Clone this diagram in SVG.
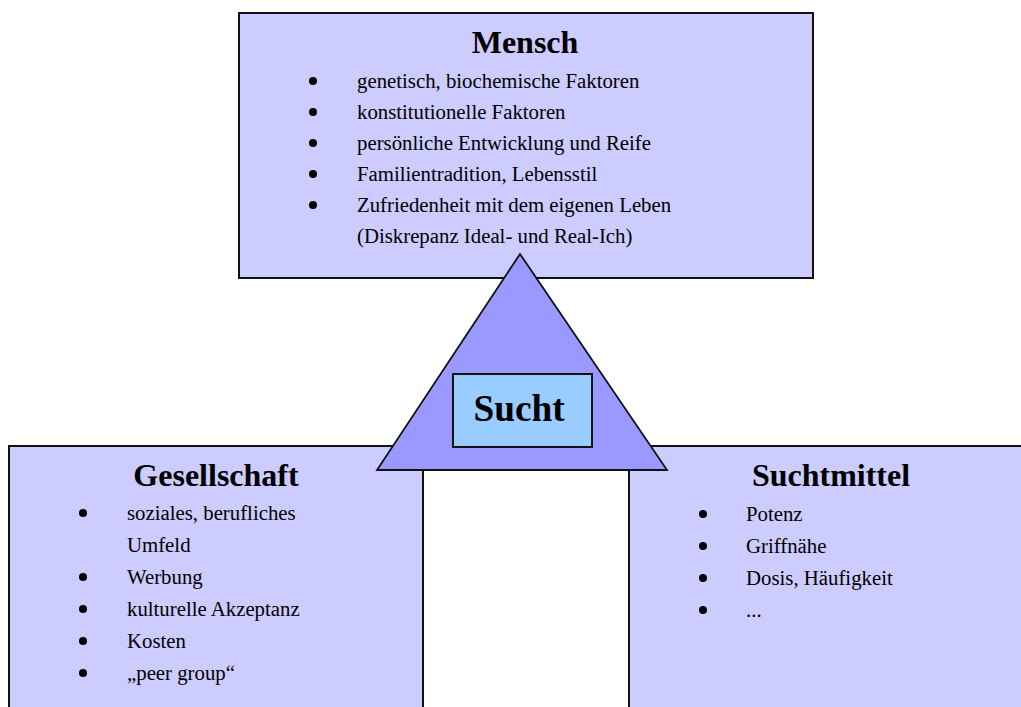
<svg xmlns="http://www.w3.org/2000/svg" width="1021" height="707" viewBox="0 0 1021 707">
<style>
.box{fill:#CCCCFF;stroke:#111;stroke-width:2}
.tri{fill:#9999FF;stroke:#111;stroke-width:1.8}
.core{fill:#99CCFF;stroke:#111;stroke-width:2}
.title{font-family:"Liberation Serif","Times New Roman",serif;font-weight:bold;font-size:32px;fill:#000;text-anchor:middle}
.item{font-family:"Liberation Serif","Times New Roman",serif;font-size:20.8px;fill:#000}
.bul{fill:#000}
.big{font-family:"Liberation Serif","Times New Roman",serif;font-weight:bold;font-size:37.3px;fill:#000;text-anchor:middle}
</style>
<rect width="1021" height="707" fill="#fff"/>
<g id="mensch">
<rect class="box" x="239" y="13" width="574" height="265"/>
<text class="title" x="525" y="53">Mensch</text>
<circle class="bul" cx="313" cy="81" r="4"/><text class="item" x="357" y="88">genetisch, biochemische Faktoren</text>
<circle class="bul" cx="313" cy="112" r="4"/><text class="item" x="357" y="119">konstitutionelle Faktoren</text>
<circle class="bul" cx="313" cy="143" r="4"/><text class="item" x="357" y="150">persönliche Entwicklung und Reife</text>
<circle class="bul" cx="313" cy="174" r="4"/><text class="item" x="357" y="181">Familientradition, Lebensstil</text>
<circle class="bul" cx="313" cy="205" r="4"/><text class="item" x="357" y="212">Zufriedenheit mit dem eigenen Leben</text>
<text class="item" x="357" y="243">(Diskrepanz Ideal- und Real-Ich)</text>
</g>
<g id="gesellschaft">
<rect class="box" x="9" y="446" width="414" height="280"/>
<text class="title" x="216" y="486">Gesellschaft</text>
<circle class="bul" cx="83" cy="513" r="4"/><text class="item" x="127" y="520">soziales, berufliches</text>
<text class="item" x="127" y="552">Umfeld</text>
<circle class="bul" cx="83" cy="577" r="4"/><text class="item" x="127" y="584">Werbung</text>
<circle class="bul" cx="83" cy="609" r="4"/><text class="item" x="127" y="616">kulturelle Akzeptanz</text>
<circle class="bul" cx="83" cy="641" r="4"/><text class="item" x="127" y="648">Kosten</text>
<circle class="bul" cx="83" cy="673" r="4"/><text class="item" x="127" y="680">„peer group“</text>
</g>
<g id="suchtmittel">
<rect class="box" x="629" y="446" width="420" height="280"/>
<text class="title" x="831" y="486">Suchtmittel</text>
<circle class="bul" cx="703" cy="514" r="4"/><text class="item" x="746" y="521">Potenz</text>
<circle class="bul" cx="703" cy="546" r="4"/><text class="item" x="746" y="553">Griffnähe</text>
<circle class="bul" cx="703" cy="578" r="4"/><text class="item" x="746" y="585">Dosis, Häufigkeit</text>
<circle class="bul" cx="703" cy="610" r="4"/><text class="item" x="746" y="617">...</text>
</g>
<g id="sucht">
<polygon class="tri" points="520,254 377,470 667,470"/>
<rect class="core" x="453" y="374" width="139" height="73"/>
<text class="big" x="519" y="421">Sucht</text>
</g>
<g id="connectors"></g>
</svg>
